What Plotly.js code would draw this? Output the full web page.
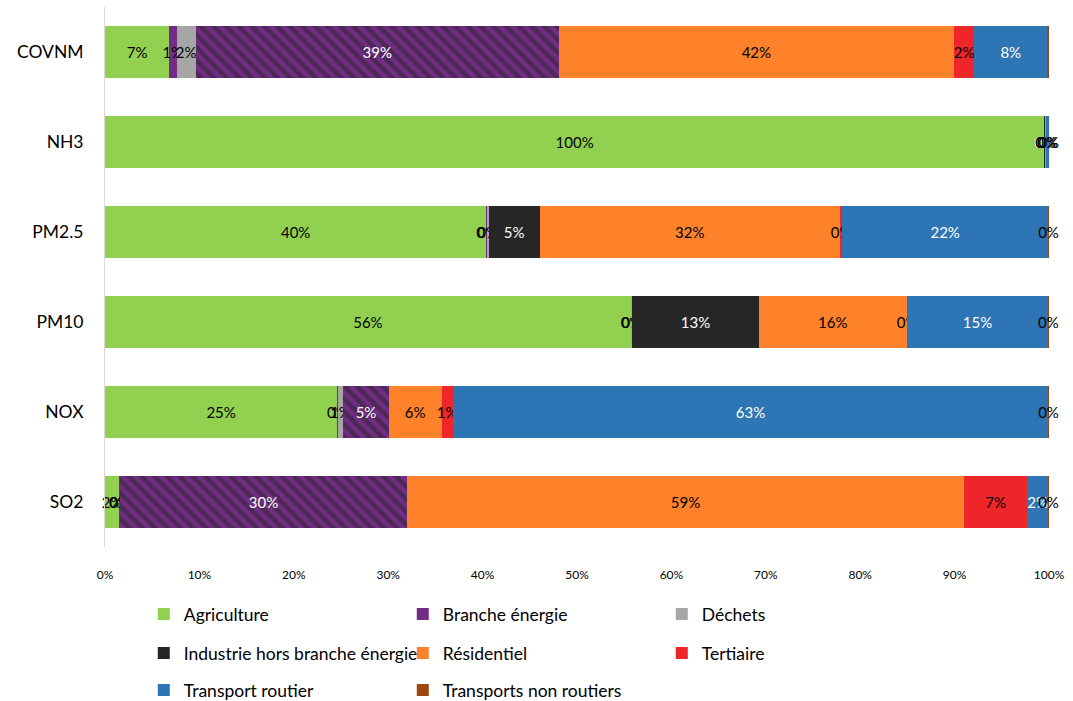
<!DOCTYPE html>
<html>
<head>
<meta charset="utf-8">
<script src="https://cdn.plot.ly/plotly-3.0.1.min.js"></script>
<style>html,body{margin:0;padding:0;background:#fff;}#chart{width:1073px;height:701px;}</style>
</head>
<body>
<div id="chart"></div>
<script>
// ---- Data (share of emissions by sector, %) ----
const categories = ['COVNM', 'NH3', 'PM2.5', 'PM10', 'NOX', 'SO2'];
const agriculture = [6.8, 99.5, 40.4, 55.7, 24.6, 1.5];
const brancheEnergie = [0.8, 0, 0.05, 0.05, 0.05, 0.05];
const dechets = [2.0, 0, 0.2, 0.1, 0.6, 0.05];
const industrie = [38.5, 0.1, 5.4, 13.4, 4.8, 30.4];
const residentiel = [41.8, 0.1, 31.8, 15.7, 5.6, 59.0];
const tertiaire = [2.2, 0, 0.25, 0.05, 1.2, 6.7];
const transportRoutier = [7.7, 0.25, 21.8, 14.85, 63.05, 2.2];
const transportsNonRoutiers = [0.2, 0.05, 0.1, 0.15, 0.1, 0.1];

// ---- Styles ----
const FONT = "Lato, 'Liberation Sans Narrow', 'DejaVu Sans Condensed', sans-serif";
const PURPLE = '#722C84';
const hatchedCategories = ['COVNM', 'NOX', 'SO2'];
const isHatched = categories.map(c => hatchedCategories.includes(c));

function barTrace(name, values, color, textColor, legendId, extra) {
  return Object.assign({
    type: 'bar',
    orientation: 'h',
    name: name,
    y: categories,
    x: values,
    marker: {color: color, line: {width: 0}},
    texttemplate: '%{x:.0f}%',
    textposition: 'inside',
    insidetextanchor: 'middle',
    textangle: 0,
    textfont: {family: FONT, size: 15, color: textColor},
    hoverinfo: 'name+x',
    legend: legendId,
    cliponaxis: false
  }, extra || {});
}

const indSolid = industrie.map((v, i) => isHatched[i] ? null : v);
const indHatched = industrie.map((v, i) => isHatched[i] ? v : null);

const traces = [
  barTrace('Agriculture', agriculture, '#92D050', '#000000', 'legend'),
  barTrace('Branche énergie', brancheEnergie, PURPLE, '#000000', 'legend'),
  barTrace('Déchets', dechets, '#A6A6A6', '#000000', 'legend'),
  barTrace('Industrie hors branche énergie', indSolid, '#262626', '#FFFFFF', 'legend2', {legendgroup: 'ind'}),
  barTrace('Industrie hors branche énergie', indHatched, PURPLE, '#FFFFFF', 'legend2', {
    legendgroup: 'ind', showlegend: false,
    marker: {color: PURPLE, line: {width: 0},
      pattern: {shape: '\\', fgcolor: '#262626', bgcolor: PURPLE, size: 9, solidity: 0.5, fillmode: 'overlay'}}
  }),
  barTrace('Résidentiel', residentiel, '#FF8129', '#000000', 'legend2'),
  barTrace('Tertiaire', tertiaire, '#EE2529', '#000000', 'legend2'),
  barTrace('Transport routier', transportRoutier, '#2E75B6',
    transportRoutier.map(v => v < 0.5 ? '#000000' : '#FFFFFF'), 'legend3'),
  barTrace('Transports non routiers', transportsNonRoutiers, '#9E480E', '#000000', 'legend3')
];

function legendRow(yPx) {
  return {
    orientation: 'h', xref: 'container', yref: 'container',
    x: 0.134, xanchor: 'left', y: 1 - yPx / 701, yanchor: 'middle',
    entrywidth: 214, entrywidthmode: 'pixels',
    font: {family: FONT, size: 17.5, color: '#000000'},
    bgcolor: 'rgba(0,0,0,0)', borderwidth: 0, traceorder: 'normal',
    itemclick: false, itemdoubleclick: false
  };
}

const layout = {
  width: 1073, height: 701,
  barmode: 'stack',
  bargap: 0.42,
  margin: {l: 105, r: 24, t: 7, b: 154, autoexpand: false},
  paper_bgcolor: '#FFFFFF', plot_bgcolor: '#FFFFFF',
  font: {family: FONT, color: '#000000'},
  uniformtext: {mode: 'show', minsize: 15},
  xaxis: {
    range: [0, 100], tickmode: 'linear', tick0: 0, dtick: 10, ticksuffix: '%',
    showgrid: false, zeroline: false, showline: false,
    ticks: 'outside', ticklen: 17, tickcolor: 'rgba(0,0,0,0)',
    tickfont: {family: FONT, size: 12, color: '#000000'}, fixedrange: true
  },
  yaxis: {
    type: 'category', categoryorder: 'array', categoryarray: categories,
    autorange: 'reversed', showgrid: false, zeroline: false,
    showline: true, linecolor: '#D9D9D9', linewidth: 1,
    ticks: 'outside', ticklen: 17, tickcolor: 'rgba(0,0,0,0)',
    tickfont: {family: FONT, size: 17.5, color: '#000000'}, fixedrange: true
  },
  legend: legendRow(614),
  legend2: legendRow(653),
  legend3: legendRow(690),
  showlegend: true
};

Plotly.newPlot('chart', traces, layout, {displayModeBar: false, staticPlot: true});
</script>
</body>
</html>
